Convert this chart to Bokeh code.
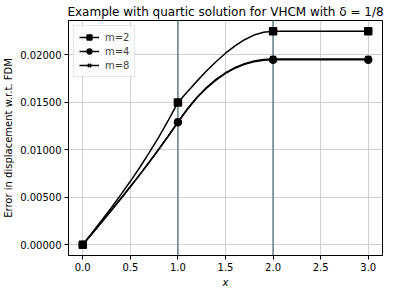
from bokeh.plotting import figure
from bokeh.models import (FixedTicker, PrintfTickFormatter, Span, Legend, LegendItem,
                          Range1d)
from bokeh.embed import file_html
from bokeh.resources import INLINE

# ---- data ----
x_vals = [0.0, 0.1, 0.2, 0.3, 0.4, 0.5, 0.6, 0.7, 0.8, 0.9, 1.0,
          1.1, 1.2, 1.3, 1.4, 1.5, 1.6, 1.7, 1.8, 1.9, 2.0, 3.0]
err_m2 = [0.0, 0.00129, 0.00259, 0.00391, 0.00528, 0.00669, 0.00817, 0.00973, 0.01138, 0.01313, 0.01500,
          0.01613, 0.01724, 0.01830, 0.01928, 0.02018, 0.02095, 0.02160, 0.02209, 0.02239, 0.02250, 0.02250]
err_m4 = [0.0, 0.00120, 0.00241, 0.00362, 0.00486, 0.00611, 0.00739, 0.00871, 0.01006, 0.01146, 0.01290,
          0.01428, 0.01548, 0.01650, 0.01735, 0.01805, 0.01860, 0.01901, 0.01929, 0.01945, 0.01950, 0.01950]
err_m8 = [0.0, 0.00121, 0.00242, 0.00364, 0.00488, 0.00614, 0.00742, 0.00875, 0.01010, 0.01150, 0.01295,
          0.01434, 0.01554, 0.01656, 0.01742, 0.01812, 0.01867, 0.01908, 0.01936, 0.01953, 0.01958, 0.01958]
node_x = [0.0, 1.0, 2.0, 3.0]
element_bounds = [1.0, 2.0]
series_labels = ["m=2", "m=4", "m=8"]
x_ticks = [0.0, 0.5, 1.0, 1.5, 2.0, 2.5, 3.0]
y_ticks = [0.0, 0.005, 0.01, 0.015, 0.02]

FONT = "DejaVu Sans"

p = figure(width=386, height=290, output_backend="svg", toolbar_location=None,
           x_range=Range1d(-0.15, 3.15), y_range=Range1d(-0.001125, 0.023625),
           title="Example with quartic solution for VHCM with δ = 1/8",
           min_border_left=0, min_border_right=4, min_border_top=2, min_border_bottom=0)

p.title.text_font = FONT
p.title.text_font_size = "12px"
p.title.text_font_style = "normal"
p.title.align = "center"
p.title.text_color = "black"
p.title.standoff = 4

p.outline_line_color = "black"
p.outline_line_width = 1
p.outline_line_alpha = 1
p.background_fill_color = "white"

for ax in (p.xaxis[0], p.yaxis[0]):
    ax.major_label_text_font = FONT
    ax.major_label_text_font_size = "10px"
    ax.major_label_text_color = "black"
    ax.axis_label_text_font = FONT
    ax.axis_label_text_font_size = "10px"
    ax.axis_label_text_color = "black"
    ax.axis_line_color = "black"
    ax.major_tick_line_color = "black"
    ax.major_tick_out = 4
    ax.major_tick_in = 0
    ax.minor_tick_line_color = None
    ax.major_label_standoff = 3
    ax.axis_label_standoff = 3

p.xaxis.ticker = FixedTicker(ticks=x_ticks)
p.yaxis.ticker = FixedTicker(ticks=y_ticks)
p.xaxis.formatter = PrintfTickFormatter(format="%.1f")
p.yaxis.formatter = PrintfTickFormatter(format="%.5f")
p.xaxis.axis_label = "x"
p.xaxis.axis_label_text_font_style = "italic"
p.yaxis.axis_label = "Error in displacement w.r.t. FDM"
p.yaxis.axis_label_text_font_style = "normal"

p.xgrid.ticker = FixedTicker(ticks=x_ticks)
p.ygrid.ticker = FixedTicker(ticks=y_ticks)
p.grid.grid_line_color = "#d0d0d0"
p.grid.grid_line_width = 1

for b in element_bounds:
    p.add_layout(Span(location=b, dimension="height", line_color="#667f8e",
                      line_width=1.5, level="underlay"))

items = []
marker_idx = [x_vals.index(v) for v in node_x]
for label, ys, marker, msize in zip(series_labels, [err_m2, err_m4, err_m8],
                                    ["square", "circle", "x"], [7, 7, 8]):
    ln = p.line(x_vals, ys, line_color="black", line_width=1.5)
    sc = p.scatter([x_vals[i] for i in marker_idx], [ys[i] for i in marker_idx],
                   marker=marker, size=msize, fill_color="black", line_color="black",
                   line_width=1.5)
    items.append(LegendItem(label=label, renderers=[ln, sc]))

legend = Legend(items=items, location="top_left")
legend.label_text_font = FONT
legend.label_text_font_size = "10px"
legend.glyph_width = 20
legend.glyph_height = 12
legend.label_height = 12
legend.label_standoff = 6
legend.spacing = 2
legend.padding = 5
legend.margin = 5
legend.border_line_color = "#cccccc"
legend.border_line_width = 1
legend.background_fill_alpha = 0.8
p.add_layout(legend)

open("out.html", "w").write(file_html(p, INLINE))
